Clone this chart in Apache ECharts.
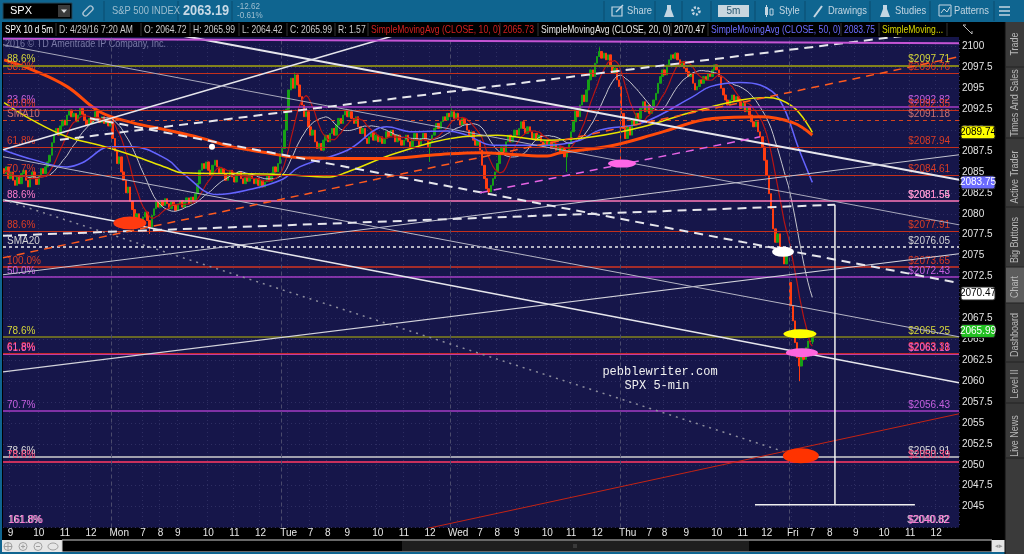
<!DOCTYPE html>
<html>
<head>
<meta charset="utf-8">
<title>SPX 10 d 5m</title>
<script src="https://cdn.jsdelivr.net/npm/echarts@6.0.0/dist/echarts.min.js"></script>
<style>
  html, body { margin: 0; padding: 0; background: #000; overflow: hidden; }
  #main { width: 1024px; height: 554px; }
</style>
</head>
<body>
<div id="main"></div>
<script>
// SPX 5 min closes (Pacific time, 6:30 - 13:00 sessions)
const fri22Close = [2084.8, 2085.6, 2084.2, 2085.0, 2084.0, 2083.4,
  2084.5, 2083.6, 2084.8, 2085.2, 2084.0, 2083.2, 2084.4, 2085.0, 2084.2, 2083.5, 2084.6, 2085.4, 2084.8, 2085.6, 2086.2,
  2087.0, 2088.5, 2089.5, 2090.2, 2089.4, 2090.5, 2091.2, 2090.6,
  2091.8, 2092.4, 2091.6, 2092.0, 2091.0, 2091.8, 2092.6, 2091.9, 2091.2, 2090.6, 2091.4, 2090.8, 2091.5, 2092.2, 2091.4, 2090.9,
  2091.6, 2090.8, 2091.3, 2090.5, 2091.4];
const monClose = [2089.0, 2087.5, 2086.0, 2086.8,
  2085.0, 2084.0, 2082.5, 2083.2, 2081.5,
  2080.5, 2079.4, 2080.0, 2079.0, 2078.6, 2079.6,
  2080.2, 2079.2, 2078.4, 2079.8, 2080.6, 2081.4, 2080.8, 2081.6,
  2081.0, 2081.8, 2081.2, 2080.6, 2081.4, 2081.0, 2080.4, 2081.2, 2081.6, 2080.8, 2081.4, 2081.9, 2081.2, 2082.0, 2081.5, 2082.4,
  2083.6, 2085.2, 2086.0, 2085.4, 2086.2,
  2085.2, 2084.6, 2085.8, 2086.4, 2085.6, 2084.8, 2085.4,
  2084.8, 2084.0, 2084.6, 2085.2, 2084.4, 2083.8, 2084.6, 2085.0, 2084.2, 2083.6, 2084.4, 2083.9, 2084.8, 2084.2, 2083.6,
  2084.2, 2083.4, 2084.0, 2083.2, 2083.8, 2084.6, 2083.9, 2084.8, 2085.6, 2085.0, 2086.0, 2087.2];
const tueClose = [2087.8, 2090.0, 2092.5, 2094.8, 2096.2, 2095.0, 2096.6, 2095.4, 2094.0,
  2093.0, 2091.6, 2092.2, 2090.4, 2089.4, 2090.0, 2088.6,
  2087.8, 2088.4, 2087.6, 2088.8, 2089.4, 2088.6, 2089.6, 2090.2, 2089.4,
  2090.6, 2091.4, 2090.8, 2091.8, 2092.4, 2091.6, 2092.2, 2091.4, 2090.8, 2091.6,
  2090.4, 2089.6, 2090.2, 2089.0, 2088.4, 2089.2, 2089.8, 2088.8, 2089.4, 2088.6,
  2089.2, 2088.4, 2089.0, 2089.8, 2089.2, 2090.0, 2089.4, 2088.6, 2089.4, 2088.8, 2088.2,
  2088.8, 2089.4, 2088.6, 2088.0, 2088.8, 2089.6, 2088.8, 2088.2, 2089.0, 2089.6,
  2088.8, 2088.0, 2088.6, 2089.4, 2090.2, 2090.8, 2090.2, 2091.0, 2091.6, 2091.2, 2092.0, 2091.6];
const wedClose = [2092.2, 2091.4, 2092.0, 2091.2, 2090.6, 2091.4, 2090.8,
  2090.0, 2089.2, 2089.8, 2088.8, 2088.2, 2088.8, 2087.6,
  2085.8, 2084.2, 2083.0, 2082.6, 2083.4, 2084.2, 2085.0,
  2086.0, 2087.2, 2088.0, 2087.4, 2088.6, 2089.4, 2088.6, 2089.2, 2090.0,
  2089.4, 2090.2, 2091.0, 2090.2, 2089.6, 2090.4, 2089.8, 2089.0, 2089.6, 2088.8, 2089.4, 2088.6, 2088.0, 2088.8, 2088.2,
  2088.6, 2087.8, 2088.4, 2087.6, 2088.0, 2087.2, 2087.8,
  2086.8, 2087.6, 2088.4, 2089.8,
  2091.0, 2092.4, 2091.6, 2093.0, 2094.2, 2093.4, 2094.8,
  2096.0, 2097.2, 2096.4, 2098.0, 2098.8, 2099.4, 2098.6,
  2099.2, 2098.4, 2099.0, 2097.6, 2096.8, 2097.4, 2096.0, 2095.2];
const thuClose = [2092.0,
  2090.2, 2089.0, 2090.4, 2089.4, 2091.2, 2090.6, 2092.0, 2091.4,
  2092.6, 2093.4, 2092.2, 2093.0, 2092.0, 2092.8, 2093.6, 2094.4,
  2095.6, 2096.4, 2097.2, 2096.6, 2097.8, 2098.4, 2099.0,
  2098.6, 2099.2, 2098.4, 2097.6, 2098.2, 2097.4,
  2097.0, 2096.4, 2096.8, 2095.6, 2094.8,
  2095.2, 2096.0, 2095.6, 2096.4, 2096.0, 2096.8, 2096.4,
  2097.2, 2097.8, 2097.2, 2096.4,
  2095.0, 2094.2, 2093.6, 2093.0, 2093.6, 2094.2, 2093.4,
  2094.0, 2093.4, 2092.6, 2093.2, 2092.2, 2092.8,
  2091.8, 2091.0, 2090.4, 2091.0, 2089.8, 2089.2,
  2088.0, 2086.4, 2084.6, 2082.4, 2080.6, 2078.2,
  2076.6, 2077.6, 2076.0, 2075.2, 2074.0, 2075.4, 2075.8];
const fri29Close = [2069.0, 2067.2, 2064.6, 2062.8, 2061.8, 2063.2, 2062.6, 2064.0, 2064.8, 2064.72, 2065.99];

const firstOpen = 2085.4;
const openFix = { 362: 2071.8 };
const wickLow = { 67: 2077.6, 196: 2086.2, 223: 2082.3, 259: 2085.0, 284: 2086.2, 366: 2060.0, 372: 2064.42 };
const wickHigh = { 134: 2096.9, 206: 2092.6, 274: 2099.9, 284: 2095.4, 309: 2099.3, 372: 2065.99 };

// moving averages: [bar, value]
const smaBlue = [[0, 2087.6], [13, 2086.5], [29, 2085.6], [36, 2086.1], [49, 2088.0], [59, 2088.0], [75, 2086.5], [82, 2084.9],
  [98, 2082.3], [113, 2082.9], [128, 2084.1], [136, 2085.6], [158, 2087.6], [176, 2090.4], [188, 2089.8], [204, 2089.9],
  [213, 2089.4], [225, 2088.2], [250, 2088.2], [265, 2088.8], [274, 2090.0], [294, 2090.9], [317, 2094.0], [325, 2095.2],
  [339, 2095.7], [348, 2095.4], [357, 2093.6], [366, 2087.6], [372, 2083.75]];
const smaYellow = [[0, 2093.3], [13, 2091.2], [29, 2089.2], [44, 2088.2], [59, 2087.0], [75, 2085.5], [82, 2084.9], [105, 2084.8],
  [127, 2084.7], [150, 2084.4], [158, 2085.0], [181, 2087.3], [211, 2089.2], [227, 2089.4], [250, 2088.8], [271, 2089.2],
  [294, 2090.4], [317, 2092.2], [339, 2093.6], [351, 2093.9], [363, 2092.8], [372, 2089.74]];
const smaOrange = [[0, 2098.4], [13, 2097.2], [29, 2095.2], [44, 2092.2], [59, 2090.9], [75, 2090.0], [90, 2089.1], [105, 2088.0],
  [121, 2087.3], [136, 2086.7], [173, 2086.6], [201, 2087.1], [219, 2087.3], [234, 2087.1], [250, 2086.9], [256, 2087.3],
  [279, 2088.1], [302, 2089.7], [326, 2091.4], [348, 2091.6], [363, 2090.9], [372, 2089.4]];

// horizontal fib / study levels
const levelPrice = [2097.71, 2096.76, 2092.82, 2092.35, 2091.18, 2087.94, 2084.61, 2081.55, 2081.54, 2077.91,
  2076.05, 2073.65, 2072.43, 2065.25, 2063.31, 2063.18, 2056.43, 2050.91, 2050.39];
const levelPct = ['88.6%', '38.2%', '23.6%', '50.0%', 'SMA10', '61.8%', '70.7%', '88.6%', '', '88.6%',
  'SMA20', '100.0%', '50.0%', '78.6%', '61.8%', '61.8%', '70.7%', '78.6%', '78.6%'];
const offLevelPrice = 2040.82;
const offLevelPct = '161.8%';

// drawn trend lines: [[bar, price], [bar, price]]
const trendLines = [
  [[-0.5, 2087.65], [180.8, 2101.4]],
  [[79.6, 2101.4], [439.5, 2084.06]],
  [[-0.5, 2100.2], [439.5, 2078.68]],
  [[-0.5, 2061.11], [439.5, 2075.22]],
  [[-0.5, 2072.71], [439.5, 2087.05]],
  [[-0.5, 2081.68], [439.5, 2059.8]],
  [[-0.5, 2086.82], [439.5, 2065.3]],
  [[-0.5, 2077.37], [382.4, 2081.08]],
  [[39.5, 2091.42], [439.5, 2071.72]],
  [[25.7, 2088.84], [417.8, 2101.4]],
  [[-0.5, 2074.74], [439.5, 2098.77]],
  [[219, 2082.51], [347.9, 2089.2]],
  [[-0.5, 2081.68], [366.3, 2050.95]],
  [[191.4, 2042.2], [439.5, 2056.09]],
  [[-0.5, 2100.92], [439.5, 2100.38]],
  [[382.4, 2081.07], [382.4, 2045.21]],
  [[345.6, 2045.21], [419.2, 2045.21]]
];

// ellipse highlights: [bar, price]
const marks = [[57.9, 2078.9], [284.4, 2086.0], [358.5, 2075.45], [366.3, 2065.65], [367.2, 2063.4], [366.7, 2051.07], [95.7, 2088.0]];

// right axis tags
const tagValues = [2089.74, 2083.75, 2070.47, 2065.99];

// x axis
const xLabelBars = [3, 16, 28, 40, 53, 64, 72, 80, 94, 106, 118, 131, 141, 149, 158, 172, 184, 196, 209, 219, 227, 236, 250, 261, 273,
  287, 297, 304, 314, 328, 340, 351, 363, 372, 380, 392, 405, 417, 429];
const xLabelText = ['9', '10', '11', '12', 'Mon', '7', '8', '9', '10', '11', '12', 'Tue', '7', '8', '9', '10', '11', '12', 'Wed',
  '7', '8', '9', '10', '11', '12', 'Thu', '7', '8', '9', '10', '11', '12', 'Fri', '7', '8', '9', '10', '11', '12'];
const dayBreaks = [49.5, 127.5, 205.5, 283.5, 361.5];

const FONT = '"Liberation Sans", Arial, sans-serif';
const NSLOT = 440;
const CLEAR = 'rgba(0,0,0,0)';

// ---- styles ----
const RED = '#c4301c', RED_T = '#dc3c24', PUR = '#a43cc4', PUR_T = '#c660e0', OLV = '#82821c', OLV_T = '#d6d63a';
const levelStyle = [
  { line: OLV, w: 2, label: OLV_T },
  { line: RED, w: 1, label: RED_T },
  { line: PUR, w: 1.5, label: PUR_T },
  { line: RED, w: 1, label: RED_T },
  { line: '#d8441e', w: 1, type: [4, 4], label: '#c87070' },
  { line: RED, w: 1, label: RED_T },
  { line: RED, w: 1, label: RED_T },
  { line: '#ff78b8', w: 1.5, label: '#ff7cc8', label2: '#dcdcdc' },
  { line: null, w: 1, label: '#ff7cc8' },
  { line: RED, w: 1, label: RED_T },
  { line: '#ececec', w: 1.5, type: [3, 3], label: '#d4d4d4' },
  { line: '#d43420', w: 1.5, label: RED_T },
  { line: PUR, w: 1.5, label: PUR_T },
  { line: OLV, w: 1.5, label: OLV_T },
  { line: '#c42a2a', w: 2, label: '#ee3a3a' },
  { line: '#c03ca0', w: 1, label: '#ff60c4' },
  { line: PUR, w: 1.5, label: PUR_T },
  { line: '#cfcfcf', w: 1.5, label: '#dcdcdc' },
  { line: '#c8305c', w: 2, label: '#ff4878' }
];
const W = '#e6e6ec';
const trendStyle = [
  { color: W, width: 1.5 },
  { color: W, width: 2 },
  { color: '#a8a8bc', width: 1 },
  { color: '#d4d4dc', width: 1.2 },
  { color: '#c4c4d0', width: 1 },
  { color: W, width: 1.5 },
  { color: '#b4b4c4', width: 1 },
  { color: W, width: 2, type: [9, 6] },
  { color: W, width: 2, type: [9, 6] },
  { color: W, width: 2, type: [9, 6] },
  { color: '#ff5a1e', width: 1.5, type: [8, 6] },
  { color: '#e464e4', width: 1.5, type: [8, 6] },
  { color: '#8c8c9c', width: 1.5, type: [2, 5] },
  { color: '#c42414', width: 1 },
  { color: '#c454d4', width: 2 },
  { color: '#f0f0f0', width: 1.5 },
  { color: '#f0f0f0', width: 1.5 }
];
const markStyle = [
  { size: [33, 13], color: '#ff3a10' },
  { size: [28, 8], color: '#ff66e6' },
  { size: [22, 10], color: '#ffffff' },
  { size: [33, 9], color: '#ffff00' },
  { size: [32, 9], color: '#ff66dd' },
  { size: [36, 15], color: '#ff3300' },
  { size: 6, color: '#ffffff' }
];
const tagStyle = [
  { bg: '#ffff00', fg: '#000' },
  { bg: '#6b6bff', fg: '#fff' },
  { bg: '#ffffff', fg: '#000' },
  { bg: '#22c022', fg: '#fff' }
];

// ---- build candles ----
const closes = [].concat(fri22Close, monClose, tueClose, wedClose, thuClose, fri29Close);
const candles = closes.map((c, i) => {
  const o = openFix[i] !== undefined ? openFix[i] : (i === 0 ? firstOpen : closes[i - 1]);
  const lo = wickLow[i] !== undefined ? wickLow[i] : Math.min(o, c);
  const hi = wickHigh[i] !== undefined ? wickHigh[i] : Math.max(o, c);
  return [o, c, lo, hi];
});
function sma(n) {
  return closes.map((_, i) => {
    const s = closes.slice(Math.max(0, i - n + 1), i + 1);
    return +(s.reduce((a, b) => a + b, 0) / s.length).toFixed(2);
  });
}
const slots = Array.from({ length: NSLOT }, (_, i) => String(i));
const labelAt = {};
xLabelBars.forEach((b, k) => { labelAt[b] = xLabelText[k]; });

const levelLines = [];
levelPrice.forEach((p, k) => {
  const s = levelStyle[k];
  levelLines.push({
    yAxis: p,
    lineStyle: { color: s.line || CLEAR, width: s.w, type: s.type || 'solid' },
    label: { show: !!levelPct[k], position: 'insideStartTop', formatter: levelPct[k], color: s.label, fontSize: 10, fontFamily: FONT, distance: [4, 1] }
  });
  levelLines.push({
    yAxis: p,
    lineStyle: { color: CLEAR, width: 1 },
    label: { show: true, position: 'insideEndTop', formatter: '$' + p.toFixed(2), color: s.label2 || s.label, fontSize: 10, fontFamily: FONT, distance: [9, 1] }
  });
});

const series = [
  {
    type: 'line', xAxisIndex: 1, data: [], silent: true, z: 2,
    markLine: { silent: true, symbol: 'none', animation: false, data: levelLines }
  },
  {
    type: 'line', xAxisIndex: 1, data: [], silent: true, z: 1,
    markLine: { silent: true, symbol: 'none', animation: false, label: { show: false },
      lineStyle: { color: '#4a4a6c', type: [4, 3], width: 1 },
      data: dayBreaks.map(v => ({ xAxis: v })) }
  },
  {
    type: 'candlestick', xAxisIndex: 0, data: candles, barWidth: 2, z: 3, silent: true,
    itemStyle: { color: '#16a016', color0: '#ff3c10', borderColor: '#16a016', borderColor0: '#ff3c10', borderWidth: 1 }
  },
  { type: 'line', xAxisIndex: 0, data: sma(20), showSymbol: false, symbol: 'none', z: 4, silent: true,
    lineStyle: { color: '#c4c4cc', width: 1 } },
  { type: 'line', xAxisIndex: 0, data: sma(10), showSymbol: false, symbol: 'none', z: 4, silent: true,
    lineStyle: { color: '#b81414', width: 1.2 } },
  { type: 'line', xAxisIndex: 1, data: smaBlue, smooth: 0.4, showSymbol: false, symbol: 'none', z: 4, silent: true,
    lineStyle: { color: '#6464ff', width: 1.5 } },
  { type: 'line', xAxisIndex: 1, data: smaYellow, smooth: 0.4, showSymbol: false, symbol: 'none', z: 4, silent: true,
    lineStyle: { color: '#e8e400', width: 1.5 } },
  { type: 'line', xAxisIndex: 1, data: smaOrange, smooth: 0.4, showSymbol: false, symbol: 'none', z: 4, silent: true,
    lineStyle: { color: '#ff4a0a', width: 3 } }
];
trendLines.forEach((pts, k) => {
  series.push({ type: 'line', xAxisIndex: 1, data: pts, showSymbol: false, symbol: 'none', z: 5, silent: true,
    lineStyle: trendStyle[k] });
});
series.push({
  type: 'scatter', xAxisIndex: 1, z: 6, silent: true,
  data: marks.map((m, k) => ({ value: m, symbolSize: markStyle[k].size, itemStyle: { color: markStyle[k].color, opacity: 1 } }))
});

const chart = echarts.init(document.getElementById('main'), null, { renderer: 'canvas' });
chart.setOption({
  backgroundColor: '#000',
  animation: false,
  grid: { left: 3, right: 65, top: 36, height: 491.5, show: true, backgroundColor: '#16164a', borderWidth: 0 },
  xAxis: [
    {
      type: 'category', data: slots, boundaryGap: true,
      axisLine: { show: false }, axisTick: { show: false },
      axisLabel: { interval: (i) => labelAt[i] !== undefined, formatter: (v, i) => labelAt[i] || '',
        color: '#e8e8e8', fontSize: 10, fontFamily: FONT, margin: 1 },
      splitLine: { show: true, interval: (i) => labelAt[i] !== undefined, lineStyle: { color: '#2e2e62', type: [1, 3] } }
    },
    { type: 'value', min: -0.5, max: NSLOT - 0.5, show: false }
  ],
  yAxis: {
    type: 'value', position: 'right', min: 2042.5, max: 2101.25, interval: 2.5, scale: true,
    axisLine: { show: false }, axisTick: { show: false },
    axisLabel: { color: '#e4e4e4', fontSize: 10, fontFamily: FONT, margin: 3, showMinLabel: false, showMaxLabel: false,
      formatter: (v) => String(v) },
    splitLine: { show: true, lineStyle: { color: '#2e2e62', type: [1, 3] } }
  },
  series: series
});

// ---- chrome around the chart (toolbar, info bar, side tabs) ----
const TB = '#0f6590';
const g = [];
function rect(x, y, w, h, fill, extra) {
  return Object.assign({ type: 'rect', silent: true, z: 100, shape: { x: x, y: y, width: w, height: h }, style: { fill: fill } }, extra || {});
}
function text(x, y, s, fill, size, o) {
  o = o || {};
  return { type: 'text', silent: true, z: o.z || 101, x: x, y: y, scaleX: o.sx || 1, rotation: o.rot || 0,
    style: { text: s, fill: fill, fontSize: size, fontFamily: o.ff || FONT, fontWeight: o.fw || 'normal',
      align: o.align || 'left', verticalAlign: 'middle' } };
}
function line(x1, y1, x2, y2, stroke, w) {
  return { type: 'line', silent: true, z: 101, shape: { x1: x1, y1: y1, x2: x2, y2: y2 }, style: { stroke: stroke, lineWidth: w || 1 } };
}

// top toolbar
g.push(rect(0, 0, 1024, 22, TB));
g.push(rect(3, 3, 69, 16, '#000', { style: { fill: '#000', stroke: '#234a5e' } }));
g.push(text(10, 11, 'SPX', '#fff', 11));
g.push(rect(58, 5, 12, 12, '#3a3a3a'));
g.push({ type: 'polygon', silent: true, z: 102, shape: { points: [[61, 9.5], [67, 9.5], [64, 13]] }, style: { fill: '#ddd' } });
g.push({ type: 'rect', silent: true, z: 101, x: 88, y: 11, rotation: Math.PI / 4,
  shape: { x: -6, y: -2.5, width: 12, height: 5, r: 2.5 }, style: { fill: 'none', stroke: '#a9c3d3', lineWidth: 1.4 } });
[104, 178, 232, 604, 655, 682, 711, 755, 805, 870, 930, 994].forEach(x => g.push(line(x, 1, x, 21, '#0a4d6e')));
g.push(text(112, 11, 'S&P 500 INDEX', '#9fbfd0', 11, { sx: 0.85 }));
g.push(text(183, 11, '2063.19', '#c8dae6', 15, { fw: 'bold', sx: 0.85 }));
g.push(text(237, 6.5, '-12.62', '#9fbfd0', 9, { sx: 0.9 }));
g.push(text(237, 15.5, '-0.61%', '#9fbfd0', 9, { sx: 0.9 }));
const TT = '#c4d6e2';
g.push(rect(612, 7, 10, 9, 'none', { style: { fill: 'none', stroke: TT, lineWidth: 1.2 } }));
g.push(line(616, 12, 623, 5, TT, 1.5));
g.push(text(627, 11, 'Share', TT, 11, { sx: 0.85 }));
g.push({ type: 'polygon', silent: true, z: 101, shape: { points: [[667, 5], [671, 5], [671, 9], [674, 17], [664, 17], [667, 9]] }, style: { fill: TT } });
g.push({ type: 'circle', silent: true, z: 101, shape: { cx: 696, cy: 11, r: 3.5 }, style: { fill: 'none', stroke: TT, lineWidth: 2.5, lineDash: [2, 1.5] } });
g.push(rect(718, 5, 31, 12, '#c9d7df'));
g.push(text(733.5, 11, '5m', '#2a5870', 10, { align: 'center' }));
g.push(rect(765, 7, 3, 8, TT)); g.push(line(766.5, 5, 766.5, 17, TT)); g.push(rect(770, 9, 3, 6, 'none', { style: { fill: 'none', stroke: TT } }));
g.push(text(779, 11, 'Style', TT, 11, { sx: 0.85 }));
g.push(line(814, 17, 822, 6, TT, 2));
g.push(text(828, 11, 'Drawings', TT, 11, { sx: 0.85 }));
g.push({ type: 'polygon', silent: true, z: 101, shape: { points: [[883, 5], [887, 5], [887, 9], [890, 17], [880, 17], [883, 9]] }, style: { fill: TT } });
g.push(text(895, 11, 'Studies', TT, 11, { sx: 0.85 }));
g.push(rect(939, 5, 12, 11, 'none', { style: { fill: 'none', stroke: TT } }));
g.push({ type: 'polyline', silent: true, z: 102, shape: { points: [[941, 13], [944, 9], [947, 12], [950, 7]] }, style: { stroke: TT, fill: 'none' } });
g.push(text(954, 11, 'Patterns', TT, 11, { sx: 0.85 }));
[7, 11, 15].forEach(y => g.push(line(999, y, 1010, y, TT, 1.5)));

// info bar
g.push(rect(0, 22, 1005, 15, '#000'));
[56, 141, 190, 239, 287, 335, 368, 500, 538, 671, 708, 841, 879, 947].forEach(x => g.push(line(x, 23, x, 36, '#333')));
const info = [
  [5, 'SPX 10 d 5m', '#ffffff', 0.74], [59, 'D: 4/29/16 7:20 AM', '#c8c8c8', 0.78], [144, 'O: 2064.72', '#c8c8c8', 0.78],
  [193, 'H: 2065.99', '#c8c8c8', 0.78], [242, 'L: 2064.42', '#c8c8c8', 0.78], [290, 'C: 2065.99', '#c8c8c8', 0.78],
  [338, 'R: 1.57', '#c8c8c8', 0.78],
  [371, 'SimpleMovingAvg (CLOSE, 10, 0)', '#d42020', 0.78], [503, '2065.73', '#d42020', 0.78],
  [541, 'SimpleMovingAvg (CLOSE, 20, 0)', '#e4e4e4', 0.78], [674, '2070.47', '#e4e4e4', 0.78],
  [711, 'SimpleMovingAvg (CLOSE, 50, 0)', '#6c6cff', 0.78], [844, '2083.75', '#6c6cff', 0.78],
  [882, 'SimpleMoving...', '#d8d800', 0.78]
];
info.forEach(t => g.push(text(t[0], 29.5, t[1], t[2], 11, { sx: t[3] })));
g.push(line(963, 25, 972, 34, '#bbb')); g.push(line(963, 25, 966, 25, '#bbb')); g.push(line(972, 34, 972, 31, '#bbb'));

// copyright and watermark
g.push(text(5, 44, '2016 \u00a9 TD Ameritrade IP Company, Inc.', '#7a7aa6', 10, { sx: 0.9, z: 60 }));
g.push(text(660, 372, 'pebblewriter.com', '#f0f0f0', 12, { ff: '"Liberation Mono", monospace', align: 'center', z: 60 }));
g.push(text(657, 386, 'SPX 5-min', '#f0f0f0', 12, { ff: '"Liberation Mono", monospace', align: 'center', z: 60 }));

// level below the visible range
g.push(text(8, 520, offLevelPct, '#e0e0e0', 10, { z: 60 }));
g.push(text(9, 520, offLevelPct, '#ff6cd0', 10, { z: 60 }));
g.push(text(949, 520, '$' + offLevelPrice.toFixed(2), '#e0e0e0', 10, { align: 'right', z: 60 }));
g.push(text(950, 520, '$' + offLevelPrice.toFixed(2), '#ff6cd0', 10, { align: 'right', z: 60 }));

// right axis tags
tagValues.forEach((v, k) => {
  const y = chart.convertToPixel({ yAxisIndex: 0 }, v);
  g.push(rect(961, y - 6.5, 34, 13, tagStyle[k].bg, { style: { fill: tagStyle[k].bg, stroke: '#222' }, shape: { x: 961, y: y - 6.5, width: 34, height: 13, r: 2 } }));
  g.push(text(978, y, v.toFixed(2), tagStyle[k].fg, 10, { align: 'center', z: 102 }));
});

// right side tabs
g.push(rect(1005, 22, 19, 532, '#3a3a3a'));
g.push(line(1005, 22, 1005, 554, '#0c0c0c'));
g.push(rect(1006, 267, 18, 36, '#5c5c5c'));
[67, 138, 207, 267, 303, 362, 403, 458].forEach(y => g.push(line(1006, y, 1024, y, '#222')));
const tabs = [['Trade', 44], ['Times And Sales', 103], ['Active Trader', 177], ['Big Buttons', 240],
  ['Chart', 287], ['Dashboard', 335], ['Level II', 384], ['Live News', 436]];
tabs.forEach(t => g.push(text(1015, t[1], t[0], '#b8b8b8', 10, { align: 'center', rot: Math.PI / 2, sx: 0.9 })));

// bottom bar
g.push(rect(0, 540, 62, 13, '#e6e6e6'));
[[8, 546.5], [23, 546.5], [38, 546.5]].forEach(p => g.push({ type: 'circle', silent: true, z: 101, shape: { cx: p[0], cy: p[1], r: 4 }, style: { fill: 'none', stroke: '#a0a0a0' } }));
g.push(line(4, 546.5, 12, 546.5, '#a0a0a0')); g.push(line(8, 542.5, 8, 550.5, '#a0a0a0'));
g.push(line(21, 546.5, 25, 546.5, '#a0a0a0')); g.push(line(23, 544.5, 23, 548.5, '#a0a0a0'));
g.push(line(36, 546.5, 40, 546.5, '#a0a0a0'));
g.push({ type: 'ellipse', silent: true, z: 101, shape: { cx: 53, cy: 546.5, rx: 5, ry: 3.5 }, style: { fill: 'none', stroke: '#a0a0a0' } });
g.push(rect(62, 540, 930, 12, '#000', { style: { fill: '#000', stroke: '#d0d0d0' } }));
g.push(rect(402, 541, 347, 10, '#1e1e1e'));
g.push(line(574, 544, 574, 548, '#555')); g.push(line(576, 544, 576, 548, '#555'));
g.push(rect(992, 540, 13, 12, '#e6e6e6'));
g.push(text(998.5, 546.5, '\u25c2\u25b8', '#999', 7, { align: 'center' }));
g.push(rect(0, 552, 1005, 2, TB));
g.push(rect(0, 22, 2, 530, TB));

chart.setOption({ graphic: g });
</script>
</body>
</html>
